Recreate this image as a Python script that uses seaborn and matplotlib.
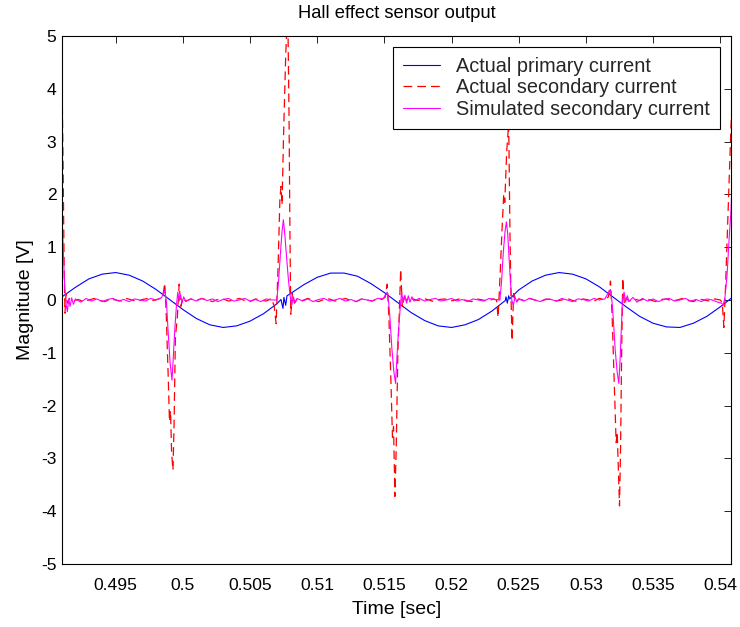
import matplotlib
matplotlib.use("Agg")
import matplotlib.pyplot as plt
import seaborn as sns
import pandas as pd

# ---------------- data ----------------
title = "Hall effect sensor output"
x_label = "Time [sec]"
y_label = "Magnitude [V]"
series_names = ["Actual primary current", "Actual secondary current", "Simulated secondary current"]

x_ticks = [0.495, 0.500, 0.505, 0.510, 0.515, 0.520, 0.525, 0.530, 0.535, 0.540]
x_tick_labels = ["0.495", "0.5", "0.505", "0.51", "0.515", "0.52", "0.525", "0.53", "0.535", "0.54"]
y_ticks = [-5, -4, -3, -2, -1, 0, 1, 2, 3, 4, 5]
y_tick_labels = ["-5", "-4", "-3", "-2", "-1", "0", "1", "2", "3", "4", "5"]

t_primary = [0.491, 0.492, 0.493, 0.494, 0.495, 0.496, 0.497, 0.498, 0.499, 0.500,
             0.501, 0.502, 0.503, 0.504, 0.505, 0.506, 0.507,
             0.5073, 0.50745, 0.50752, 0.50765, 0.50775,
             0.508, 0.509, 0.510, 0.511, 0.512, 0.513, 0.514, 0.515, 0.516, 0.517,
             0.518, 0.519, 0.520, 0.521, 0.522, 0.523, 0.524,
             0.52405, 0.52415, 0.52425, 0.52432,
             0.525, 0.526, 0.527, 0.528, 0.529, 0.530, 0.531, 0.532, 0.533, 0.534,
             0.535, 0.536, 0.537, 0.538, 0.539, 0.540, 0.541]
v_primary = [0.06, 0.24, 0.40, 0.49, 0.52, 0.47, 0.36, 0.20, 0.01, -0.18,
             -0.35, -0.47, -0.52, -0.49, -0.40, -0.26, -0.07,
             0.01, -0.16, 0.05, -0.10, 0.08,
             0.12, 0.29, 0.43, 0.51, 0.51, 0.45, 0.31, 0.14, -0.05, -0.24,
             -0.39, -0.49, -0.52, -0.47, -0.37, -0.21, -0.01,
             0.06, -0.06, 0.08, 0.02,
             0.19, 0.36, 0.47, 0.52, 0.49, 0.40, 0.25, 0.06, -0.13, -0.31,
             -0.44, -0.51, -0.52, -0.44, -0.31, -0.13, 0.07]

t_secondary = [0.49100, 0.49108, 0.49116, 0.49122, 0.49130, 0.49140, 0.49155,
               0.4918, 0.4922, 0.4926, 0.4930, 0.4934, 0.4938, 0.4942, 0.4946, 0.4950,
               0.4954, 0.4958, 0.4962, 0.4966, 0.4970, 0.4974, 0.4978, 0.4982,
               0.49850, 0.49865, 0.49875, 0.49890, 0.49900, 0.49908, 0.49916, 0.49926,
               0.49934, 0.49944, 0.49958, 0.49972, 0.49985, 0.50000,
               0.5002, 0.5006, 0.5010, 0.5014, 0.5018, 0.5022, 0.5026, 0.5030, 0.5034,
               0.5038, 0.5042, 0.5046, 0.5050, 0.5054, 0.5058, 0.5062,
               0.50660, 0.50680, 0.50694, 0.50708, 0.50722, 0.50730, 0.50738, 0.50750,
               0.50765, 0.50780, 0.50790, 0.50797, 0.50803, 0.50815, 0.50830,
               0.5085, 0.5089, 0.5093, 0.5097, 0.5101, 0.5105, 0.5109, 0.5113, 0.5117,
               0.5121, 0.5125, 0.5129, 0.5133, 0.5137, 0.5141, 0.5145, 0.5148,
               0.51505, 0.51521, 0.51533, 0.51548, 0.51560, 0.51568, 0.51578, 0.51588,
               0.51600, 0.51610, 0.51621, 0.51633, 0.51648, 0.5167,
               0.5171, 0.5175, 0.5179, 0.5183, 0.5187, 0.5191, 0.5195, 0.5199, 0.5203,
               0.5207, 0.5211, 0.5215, 0.5219, 0.5223, 0.5227, 0.5231,
               0.52335, 0.52346, 0.52360, 0.52375, 0.52388, 0.52396, 0.52410, 0.52425,
               0.52435, 0.52442, 0.52450, 0.52462, 0.52478, 0.5250,
               0.5254, 0.5258, 0.5262, 0.5266, 0.5270, 0.5274, 0.5278, 0.5282, 0.5286,
               0.5290, 0.5294, 0.5298, 0.5302, 0.5306, 0.5310, 0.5314,
               0.53168, 0.53183, 0.53195, 0.53210, 0.53225, 0.53233, 0.53250, 0.53258,
               0.53265, 0.53274, 0.53286, 0.53300, 0.5332,
               0.5336, 0.5340, 0.5344, 0.5348, 0.5352, 0.5356, 0.5360, 0.5364, 0.5368,
               0.5372, 0.5376, 0.5380, 0.5384, 0.5388, 0.5392, 0.5396, 0.5400,
               0.54015, 0.54027, 0.54040, 0.54055, 0.54068, 0.54080, 0.54090]
v_secondary = [4.20, 2.60, 0.60, -0.25, 0.12, -0.06, 0.03,
               -0.02, 0.01, -0.03, 0.00, 0.03, -0.01, -0.03, 0.02, 0.00,
               -0.02, 0.03, 0.00, -0.03, 0.01, 0.03, -0.01, 0.02,
               0.06, 0.32, -0.20, -1.40, -2.30, -2.10, -2.90, -3.22,
               -2.40, -0.70, -0.35, 0.30, -0.12, 0.05,
               -0.02, 0.02, -0.01, 0.03, 0.00, -0.03, 0.01, 0.02, -0.02,
               0.00, 0.03, -0.01, -0.03, 0.02, 0.00, -0.02,
               0.03, -0.12, -0.45, 0.60, 1.90, 2.15, 1.80, 3.20,
               4.60, 5.60, 3.50, 1.20, -0.27, 0.12, -0.06,
               0.02, -0.01, 0.03, 0.00, -0.03, 0.01, 0.02, -0.02, 0.00,
               0.03, -0.01, -0.03, 0.02, 0.00, -0.02, 0.03, 0.01,
               0.05, 0.30, -0.30, -1.50, -2.60, -2.40, -3.72, -2.80,
               -1.00, -0.30, 0.58, -0.12, 0.06, -0.02,
               0.02, -0.01, 0.03, 0.00, -0.03, 0.01, 0.02, -0.02, 0.00,
               0.03, -0.01, -0.03, 0.02, 0.00, -0.02, 0.02,
               0.00, -0.33, 0.40, 1.30, 2.00, 1.85, 2.80, 3.35,
               1.20, 0.10, -0.77, 0.12, -0.04, 0.02,
               -0.01, 0.03, 0.00, -0.03, 0.01, 0.02, -0.02, 0.00, 0.03,
               -0.01, -0.03, 0.02, 0.00, -0.02, 0.03, 0.01,
               0.06, 0.36, -0.30, -1.50, -2.70, -2.50, -3.90, -2.80,
               -1.20, 0.42, -0.08, 0.04, -0.02,
               0.02, -0.01, 0.03, 0.00, -0.03, 0.01, 0.02, -0.02, 0.00,
               0.03, -0.01, -0.03, 0.02, 0.00, -0.02, 0.02, 0.00,
               -0.05, -0.52, 0.30, 1.40, 2.40, 3.30, 3.80]

t_simulated = [0.49100, 0.49110, 0.49120, 0.49130, 0.49140, 0.49150, 0.49160, 0.49172, 0.49185,
               0.4920, 0.4924, 0.4928, 0.4932, 0.4936, 0.4940, 0.4944, 0.4948, 0.4952,
               0.4956, 0.4960, 0.4964, 0.4968, 0.4972, 0.4976, 0.4980, 0.4984,
               0.49865, 0.49878, 0.49890, 0.49905, 0.49919, 0.49930, 0.49940, 0.49952,
               0.49962, 0.49972, 0.49982, 0.49994, 0.50006, 0.5002, 0.5006,
               0.5010, 0.5014, 0.5018, 0.5022, 0.5026, 0.5030, 0.5034, 0.5038, 0.5042,
               0.5046, 0.5050, 0.5054, 0.5058, 0.5062, 0.5066,
               0.50699, 0.50712, 0.50725, 0.50738, 0.50748, 0.50760, 0.50772, 0.50785,
               0.50797, 0.50810, 0.50822, 0.50835, 0.5085, 0.5089,
               0.5093, 0.5097, 0.5101, 0.5105, 0.5109, 0.5113, 0.5117, 0.5121, 0.5125,
               0.5129, 0.5133, 0.5137, 0.5141, 0.5145, 0.5149,
               0.51521, 0.51532, 0.51542, 0.51555, 0.51570, 0.51583, 0.51595, 0.51606,
               0.51616, 0.51628, 0.51640, 0.51652, 0.51665, 0.51678, 0.51690, 0.51705,
               0.5172, 0.5176,
               0.5180, 0.5184, 0.5188, 0.5192, 0.5196, 0.5200, 0.5204, 0.5208, 0.5212,
               0.5216, 0.5220, 0.5224, 0.5228, 0.5232,
               0.52360, 0.52372, 0.52385, 0.52398, 0.52408, 0.52418, 0.52428, 0.52438,
               0.52448, 0.52460, 0.52472, 0.52485, 0.5250,
               0.5254, 0.5258, 0.5262, 0.5266, 0.5270, 0.5274, 0.5278, 0.5282, 0.5286,
               0.5290, 0.5294, 0.5298, 0.5302, 0.5306, 0.5310, 0.5314,
               0.53183, 0.53195, 0.53205, 0.53218, 0.53232, 0.53245, 0.53255, 0.53264,
               0.53272, 0.53284, 0.53296, 0.53308, 0.5332, 0.5335, 0.5338,
               0.5342, 0.5346, 0.5350, 0.5354, 0.5358, 0.5362, 0.5366, 0.5370, 0.5374,
               0.5378, 0.5382, 0.5386, 0.5390, 0.5394, 0.5398,
               0.54010, 0.54022, 0.54035, 0.54050, 0.54067, 0.54080, 0.54090]
v_simulated = [1.60, 0.90, 0.25, -0.07, -0.22, 0.02, -0.12, 0.04, -0.08,
               0.02, -0.04, 0.03, -0.02, 0.02, -0.03, 0.01, 0.03, -0.02,
               0.01, -0.03, 0.02, 0.00, -0.02, 0.03, 0.00, 0.04,
               0.18, -0.05, -0.60, -1.20, -1.52, -1.00, -0.55, -0.10,
               0.15, -0.02, 0.10, -0.05, 0.06, -0.03, 0.02,
               -0.02, 0.03, -0.01, 0.02, -0.03, 0.01, 0.03, -0.02, 0.00,
               0.03, -0.02, 0.01, -0.03, 0.02, 0.00,
               0.00, 0.35, 0.85, 1.30, 1.52, 1.20, 0.80, 0.40,
               0.10, -0.10, 0.06, -0.05, 0.03, -0.02,
               0.02, -0.03, 0.01, 0.03, -0.02, 0.00, 0.03, -0.02, 0.01,
               -0.03, 0.02, 0.00, -0.02, 0.03, 0.02,
               0.15, -0.05, -0.36, -0.90, -1.35, -1.58, -1.00, -0.55,
               -0.20, 0.15, -0.05, 0.09, -0.06, 0.08, -0.04, 0.06,
               -0.02, 0.03,
               -0.02, 0.01, 0.03, -0.02, 0.00, 0.03, -0.02, 0.01, -0.03,
               0.02, 0.00, -0.02, 0.03, 0.01,
               0.00, 0.35, 0.90, 1.30, 1.48, 1.25, 0.80, 0.35,
               0.00, -0.10, 0.06, -0.04, 0.02,
               -0.02, 0.03, 0.00, -0.03, 0.02, 0.01, -0.02, 0.03, 0.00,
               -0.03, 0.02, 0.01, -0.02, 0.03, 0.00, 0.02,
               0.20, -0.05, -0.40, -0.95, -1.35, -1.58, -1.10, -0.50,
               0.00, 0.15, -0.04, 0.08, -0.03, 0.05, -0.04,
               0.03, -0.02, 0.02, -0.03, 0.01, 0.03, -0.02, 0.00, 0.03,
               -0.02, 0.01, -0.03, 0.02, 0.00, -0.04,
               -0.06, -0.10, 0.05, 0.45, 1.20, 1.70, 2.30]

x_range = (0.4910, 0.5408)
y_range = (-5, 5)

# ---------------- plotting ----------------
sns.set_theme(style="white")
plt.rcParams["font.family"] = ["Liberation Sans", "DejaVu Sans"]
plt.rcParams["axes.unicode_minus"] = False

fig = plt.figure(figsize=(7.4, 6.27), dpi=100)
ax = fig.add_axes([62 / 740, 1 - 564 / 627, (731 - 62) / 740, (564 - 36) / 627])

df_p = pd.DataFrame({"t": t_primary, "v": v_primary})
df_s = pd.DataFrame({"t": t_secondary, "v": v_secondary})
df_m = pd.DataFrame({"t": t_simulated, "v": v_simulated})

sns.lineplot(data=df_p, x="t", y="v", color="#0000ff", linewidth=0.8,
             estimator=None, sort=False, label=series_names[0], ax=ax)
sns.lineplot(data=df_s, x="t", y="v", color="#ff0000", linewidth=0.9,
             estimator=None, sort=False, label=series_names[1], ax=ax)
ax.lines[-1].set_dashes((7, 4))
sns.lineplot(data=df_m, x="t", y="v", color="#ff00ff", linewidth=0.8,
             estimator=None, sort=False, label=series_names[2], ax=ax)

ax.set_xlim(*x_range)
ax.set_ylim(*y_range)
ax.set_xticks(x_ticks)
ax.set_xticklabels(x_tick_labels)
ax.set_yticks(y_ticks)
ax.set_yticklabels(y_tick_labels)

ax.tick_params(axis="both", direction="in", length=5, width=0.6, top=True, right=True,
               colors="black", labelsize=12.6)
ax.tick_params(axis="x", pad=10)
ax.tick_params(axis="y", pad=4)
for sp in ax.spines.values():
    sp.set_color("black")
    sp.set_linewidth(0.8)

ax.set_title(title, fontsize=13.2, color="black", pad=13)
ax.set_xlabel(x_label, fontsize=14, color="black", labelpad=6)
ax.set_ylabel(y_label, fontsize=14, color="black", labelpad=5)

leg = ax.legend(loc="upper right", fontsize=14.3, frameon=True, fancybox=False,
                edgecolor="black", framealpha=1, borderaxespad=0.55, borderpad=0.5,
                handlelength=1.9, handletextpad=0.8, labelspacing=0.12)
leg.get_frame().set_linewidth(0.8)

fig.savefig("out.png", dpi=100)
